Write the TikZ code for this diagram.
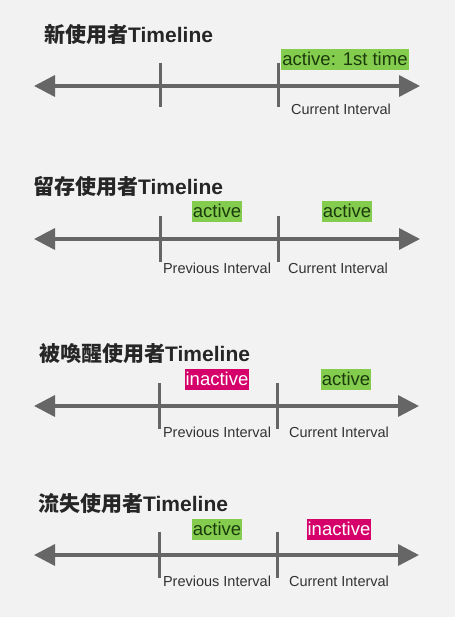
\documentclass[tikz,border=0pt]{standalone}
\usepackage{fontspec}
\setmainfont{Liberation Sans}
\newfontfamily\cjk{Noto Sans CJK TC}
\usetikzlibrary{arrows.meta}

\definecolor{bggray}{HTML}{F2F2F2}
\definecolor{linegray}{HTML}{666666}
\definecolor{actgreen}{HTML}{84CC4E}
\definecolor{actdark}{HTML}{1B3A0C}
\definecolor{inactpink}{HTML}{D6006B}
\definecolor{labgray}{HTML}{333333}

\tikzset{
	timeline/.style={line width=3.5pt, draw=linegray, {Triangle[length=21pt,width=21pt]}-{Triangle[length=21pt,width=21pt]}},
	tickmark/.style={line width=3pt, draw=linegray},
	title/.style={anchor=west, inner sep=0pt, text=black!85, font=\fontsize{21}{21}\selectfont\bfseries},
	actbox/.style={fill=actgreen, text=actdark, inner xsep=1pt, inner ysep=1.5pt, text height=15pt, text depth=3pt, font=\fontsize{18.5}{18.5}\selectfont},
	inactbox/.style={actbox, fill=inactpink, text=white},
	intlabel/.style={text=labgray, inner sep=0pt, font=\fontsize{14.5}{15}\selectfont}
}

\begin{document}
\begin{tikzpicture}[x=1pt, y=-1pt]
	\fill[bggray] (0,0) rectangle (455,617);

	% new users
	\node[title] (title1) at (44,34) {{\cjk 新使用者}Timeline};
	\coordinate (l1) at (34,86);
	\coordinate (r1) at (420,86);
	\coordinate (p1) at (160,86);
	\coordinate (c1) at (278,86);
	\draw[timeline] (l1) -- (r1);
	\draw[tickmark] ([yshift=23pt]p1) -- ([yshift=-21pt]p1);
	\draw[tickmark] ([yshift=23pt]c1) -- ([yshift=-21pt]c1);
	\node[actbox] (now1) at (345,60) {active: 1st time};
	\node[intlabel] (cur1) at (341,109) {Current Interval};

	% retained users
	\node[title] (title2) at (33,186) {{\cjk 留存使用者}Timeline};
	\coordinate (l2) at (34,239);
	\coordinate (r2) at (420,239);
	\coordinate (p2) at (160,239);
	\coordinate (c2) at (278,239);
	\draw[timeline] (l2) -- (r2);
	\draw[tickmark] ([yshift=23pt]p2) -- ([yshift=-23pt]p2);
	\draw[tickmark] ([yshift=23pt]c2) -- ([yshift=-23pt]c2);
	\node[actbox] (prev2) at (217,212) {active};
	\node[actbox] (now2) at (347,212) {active};
	\node[intlabel] (plab2) at (217,268) {Previous Interval};
	\node[intlabel] (cur2) at (338,268) {Current Interval};

	% reactivated users
	\node[title] (title3) at (39,354) {{\cjk 被喚醒使用者}Timeline};
	\coordinate (l3) at (34,406);
	\coordinate (r3) at (419,406);
	\coordinate (p3) at (159,406);
	\coordinate (c3) at (277,406);
	\draw[timeline] (l3) -- (r3);
	\draw[tickmark] ([yshift=23pt]p3) -- ([yshift=-23pt]p3);
	\draw[tickmark] ([yshift=23pt]c3) -- ([yshift=-23pt]c3);
	\node[inactbox] (prev3) at (217,379) {inactive};
	\node[actbox] (now3) at (346,379) {active};
	\node[intlabel] (plab3) at (217,432) {Previous Interval};
	\node[intlabel] (cur3) at (339,432) {Current Interval};

	% churned users
	\node[title] (title4) at (38,503) {{\cjk 流失使用者}Timeline};
	\coordinate (l4) at (34,555);
	\coordinate (r4) at (419,555);
	\coordinate (p4) at (159,555);
	\coordinate (c4) at (277,555);
	\draw[timeline] (l4) -- (r4);
	\draw[tickmark] ([yshift=23pt]p4) -- ([yshift=-23pt]p4);
	\draw[tickmark] ([yshift=23pt]c4) -- ([yshift=-23pt]c4);
	\node[actbox] (prev4) at (217,529) {active};
	\node[inactbox] (now4) at (339,529) {inactive};
	\node[intlabel] (plab4) at (217,581) {Previous Interval};
	\node[intlabel] (cur4) at (339,581) {Current Interval};
\end{tikzpicture}
\end{document}
